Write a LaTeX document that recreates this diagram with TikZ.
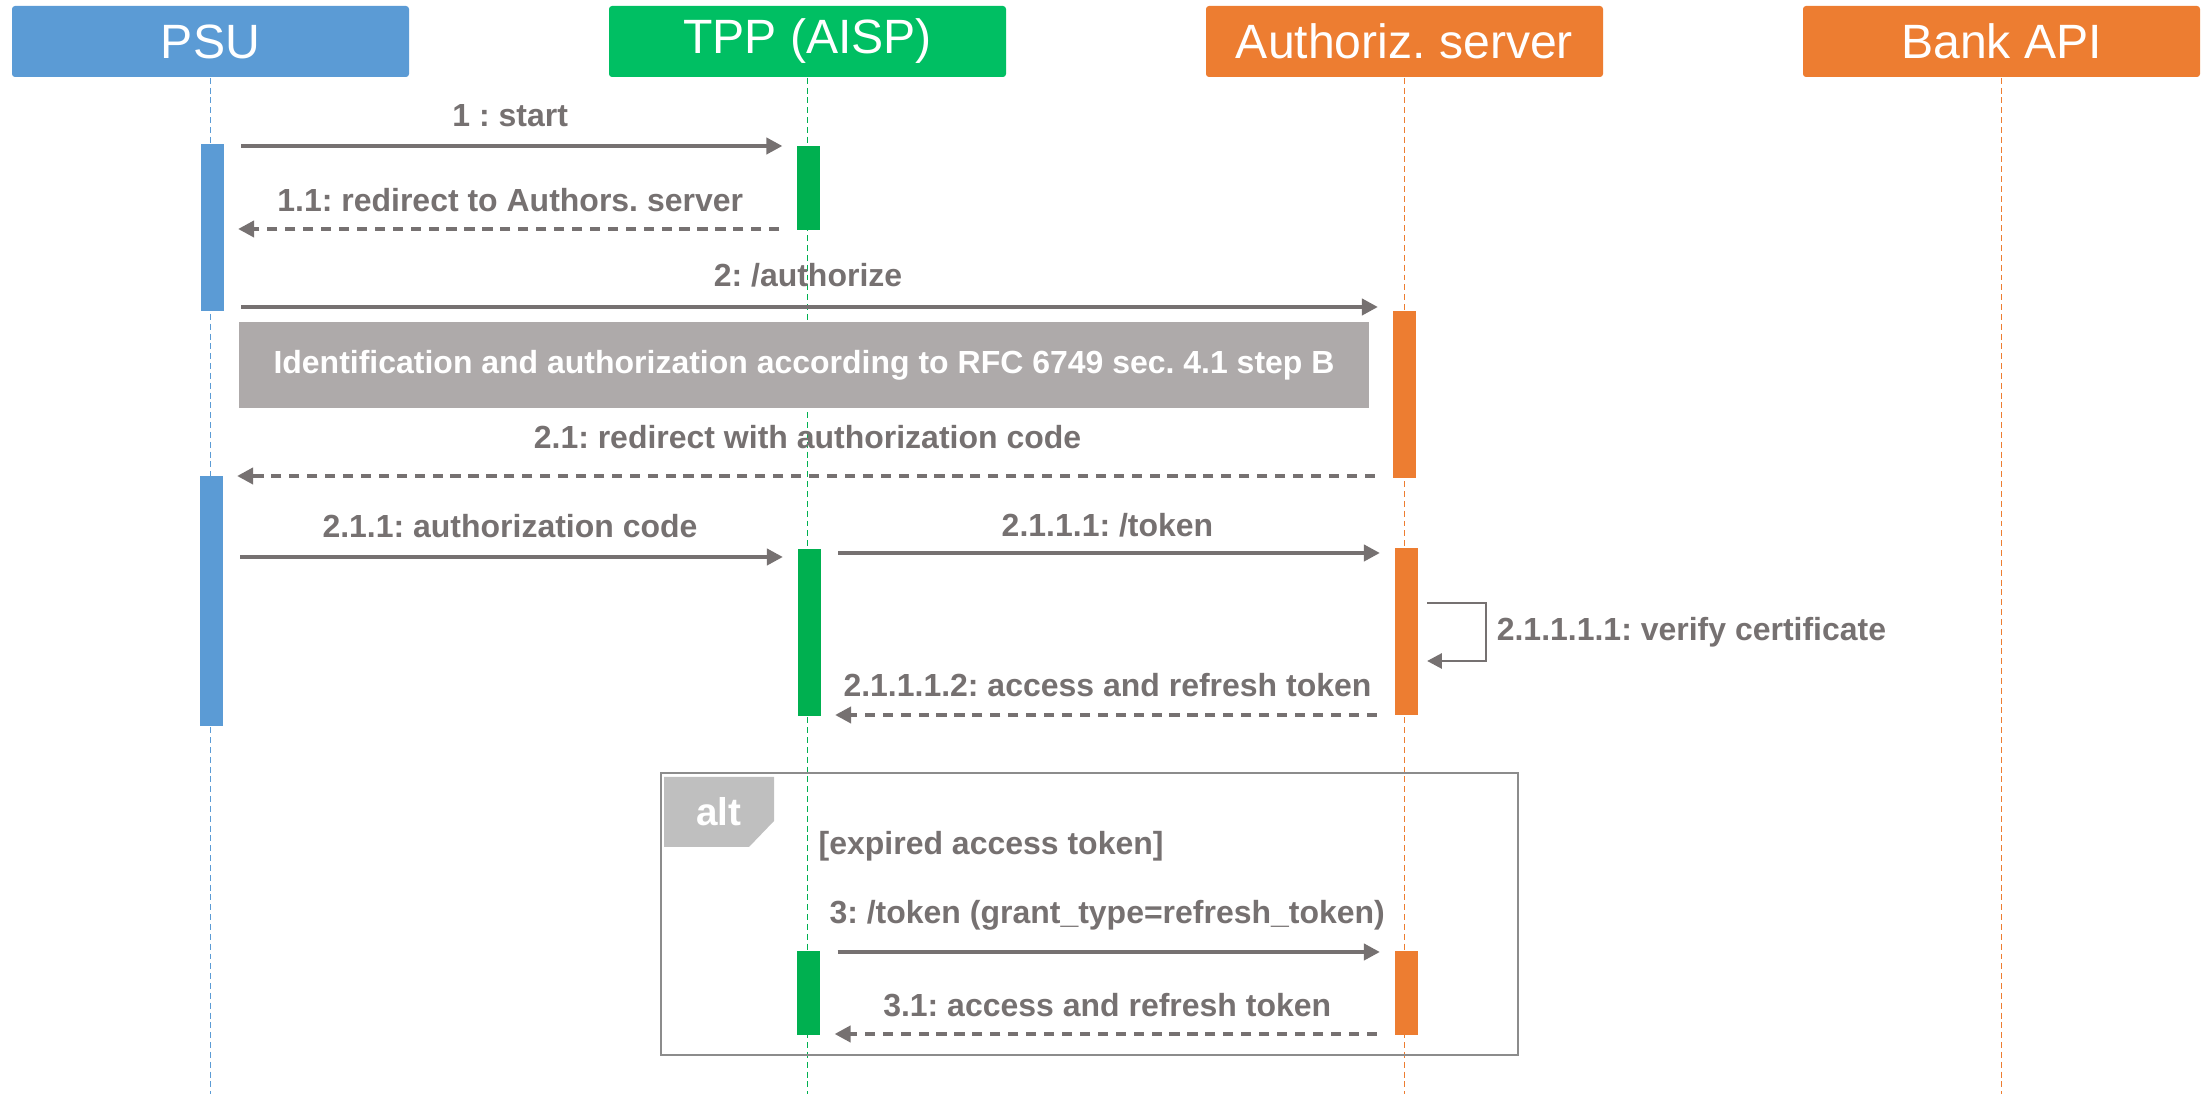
\documentclass[tikz,border=0pt]{standalone}
\usepackage{fontspec}
\setmainfont{Liberation Sans}
\usetikzlibrary{arrows.meta}
\frenchspacing

\definecolor{psublue}{RGB}{91,155,213}
\definecolor{tppgreen}{RGB}{0,191,99}
\definecolor{actgreen}{RGB}{0,176,80}
\definecolor{asorange}{RGB}{237,125,49}
\definecolor{msggray}{RGB}{118,113,113}
\definecolor{notegray}{RGB}{174,170,170}
\definecolor{altgray}{RGB}{191,191,191}
\definecolor{framegray}{RGB}{140,140,140}

\tikzset{
  actor/.style={fill=#1, rounded corners=0.3mm, minimum width=39.7mm, minimum height=7.1mm,
    inner sep=0pt, text=white, font=\fontsize{13.7}{16}\selectfont},
  life/.style={draw=#1, line width=0.35pt, dash pattern=on 1.7pt off 1.1pt},
  bar/.style={fill=#1, minimum width=2.3mm, inner sep=0pt},
  msg/.style={draw=msggray, line width=0.95pt, -{Triangle[length=4.5pt,width=4.6pt]},
    shorten <=1.7mm, shorten >=1.4mm},
  reply/.style={msg, dash pattern=on 2.9pt off 2.2pt},
  selfmsg/.style={draw=msggray, line width=0.45pt, -{Triangle[length=4.2pt,width=4.4pt]},
    shorten <=0.9mm, shorten >=0.9mm},
  lbl/.style={anchor=base, text=msggray, inner sep=0pt, font=\fontsize{9.1}{11}\selectfont\bfseries},
  note/.style={fill=notegray, inner sep=0pt, text=white, font=\fontsize{9.1}{11}\selectfont\bfseries},
  alttag/.style={anchor=base, inner sep=0pt, text=white, font=\fontsize{11}{13}\selectfont\bfseries}
}

\begin{document}
\begin{tikzpicture}[x=0.1mm,y=-0.1mm]
\useasboundingbox (0,0) rectangle (2208,1094);

\node[actor=psublue]  (psu)  at (210.5,41.5)  {PSU};
\node[actor=tppgreen] (tpp)  at (807.5,41.5)  {TPP (AISP)};
\node[actor=asorange] (as)   at (1404.5,41.5) {Authoriz. server};
\node[actor=asorange] (bank) at (2001.5,41.5) {Bank API};

\coordinate (bottom) at (0,1094);
\draw[life=psublue]  (psu.south)  -- (psu.south |- bottom);
\draw[life=actgreen] (tpp.south)  -- (tpp.south |- bottom);
\draw[life=asorange] (as.south)   -- (as.south |- bottom);
\draw[life=asorange] (bank.south) -- (bank.south |- bottom);

\node[draw=framegray, line width=0.6pt, minimum width=85.7mm, minimum height=28.2mm] (altbox) at (1089.5,914) {};
\fill[altgray] (664,777) -- (774,777) -- (774,821) -- (749,847) -- (664,847) -- cycle;
\node[alttag] (alt) at (719,826) {alt};
\node[lbl, anchor=base west] (guard) at (818,855) {[expired access token]};

\node[bar=psublue,  minimum height=16.7mm] (psu1) at (212,227.5) {};
\node[bar=actgreen, minimum height=8.4mm]  (tpp1) at (808.5,188) {};
\node[bar=asorange, minimum height=16.7mm] (as1)  at (1404,394.5) {};
\node[bar=psublue,  minimum height=25mm]   (psu2) at (211,601) {};
\node[bar=actgreen, minimum height=16.7mm] (tpp2) at (809,632.5) {};
\node[bar=asorange, minimum height=16.7mm] (as2)  at (1406,631.5) {};
\node[bar=actgreen, minimum height=8.4mm]  (tpp3) at (808.5,993) {};
\node[bar=asorange, minimum height=8.4mm]  (as3)  at (1406,993) {};

\node[note, minimum width=113mm, minimum height=8.6mm] (idnote) at (804,365)
  {Identification and authorization according to RFC 6749 sec. 4.1 step B};

\coordinate (r1) at (0,146);
\coordinate (r2) at (0,229);
\coordinate (r3) at (0,307);
\coordinate (r4) at (0,476);
\coordinate (r5) at (0,557);
\coordinate (r6) at (0,553);
\coordinate (r7) at (0,715);
\coordinate (r8) at (0,952);
\coordinate (r9) at (0,1034);
\coordinate (s1) at (0,603);
\coordinate (s2) at (1486,661);

\draw[msg]   (psu1.east |- r1) -- node[lbl, yshift=1.9mm] {1 : start} (tpp1.west |- r1);
\draw[reply] (tpp1.west |- r2) -- node[lbl, yshift=1.7mm] {1.1: redirect to Authors. server} (psu1.east |- r2);
\draw[msg]   (psu1.east |- r3) -- node[lbl, yshift=2mm] {2: /authorize} (as1.west |- r3);
\draw[reply] (as1.west |- r4) -- node[lbl, yshift=2.7mm] {2.1: redirect with authorization code} (psu2.east |- r4);
\draw[msg]   (psu2.east |- r5) -- node[lbl, yshift=1.9mm] {2.1.1: authorization code} (tpp2.west |- r5);
\draw[msg]   (tpp2.east |- r6) -- node[lbl, yshift=1.6mm] {2.1.1.1: /token} (as2.west |- r6);
\draw[selfmsg] (as2.east |- s1) -| node[lbl, pos=0.75, anchor=west, xshift=1mm] {2.1.1.1.1: verify certificate} (s2) -- (as2.east |- s2);
\draw[reply] (as2.west |- r7) -- node[lbl, yshift=1.8mm] {2.1.1.1.2: access and refresh token} (tpp2.east |- r7);
\draw[msg]   (tpp3.east |- r8) -- node[lbl, yshift=2.8mm] {3: /token (grant\_type=refresh\_token)} (as3.west |- r8);
\draw[reply] (as3.west |- r9) -- node[lbl, yshift=1.7mm] {3.1: access and refresh token} (tpp3.east |- r9);

\end{tikzpicture}
\end{document}
